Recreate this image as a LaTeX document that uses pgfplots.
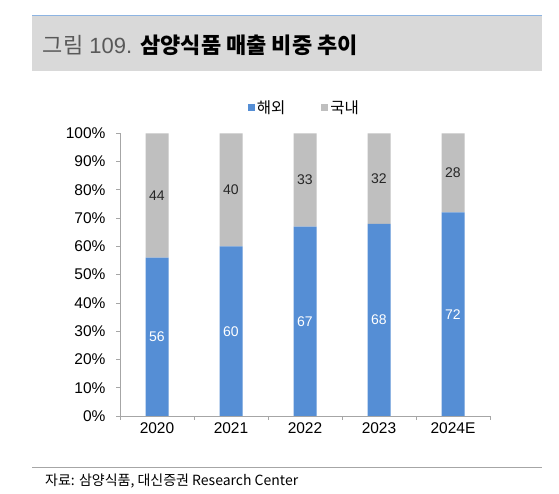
\documentclass[border=0pt]{standalone}
\usepackage{pgfplots}
\pgfplotsset{compat=1.18}
\usepackage{pgfplotstable}
\usepackage{fontspec}
\setmainfont{Liberation Sans}
\newfontfamily\kr{Noto Sans CJK KR}
\definecolor{barblue}{RGB}{85,142,213}
\definecolor{bargray}{RGB}{191,191,191}
\definecolor{band}{RGB}{217,217,217}
\definecolor{topline}{RGB}{141,180,226}
\definecolor{axisgray}{RGB}{166,166,166}
\definecolor{titlegray}{RGB}{89,89,89}
\definecolor{labeldark}{RGB}{38,38,38}

\pgfplotstableread{
x blue gray
0 56 44
1 60 40
2 67 33
3 68 32
4 72 28
}\shares

\begin{document}
\begin{tikzpicture}[x=1pt,y=1pt]
\useasboundingbox (0,0) rectangle (559,494);
\fill[white] (0,0) rectangle (559,494);
\fill[band] (32,423.3) rectangle (542,478);
\draw[topline, line width=1pt] (32,478) -- (542,478);
\node[anchor=west, inner sep=0pt] at (42.7,449)
  {\fontsize{22}{26}\selectfont\color{titlegray}{\kr 그림} 109. \color{black}{\kr\bfseries 삼양식품 매출 비중 추이}};
\draw[axisgray, line width=0.8pt] (32,26.3) -- (542,26.3);
\node[anchor=west, inner sep=0pt] at (45,13)
  {\fontsize{14}{16}\selectfont\kr 자료: 삼양식품, 대신증권 Research Center};

\begin{axis}[
  at={(120pt,78pt)}, anchor=south west,
  scale only axis, width=370pt, height=282.7pt,
  ybar stacked, bar width=23pt,
  xmin=-0.5, xmax=4.5, ymin=0, ymax=100,
  axis x line*=bottom, axis y line*=left,
  axis line style={axisgray, line width=0.8pt, -},
  xtick={-0.5,0.5,1.5,2.5,3.5,4.5}, xticklabels={,,,,,},
  extra x ticks={0,1,2,3,4},
  extra x tick labels={2020,2021,2022,2023,2024E},
  extra x tick style={major tick length=0pt},
  ytick={0,10,20,30,40,50,60,70,80,90,100},
  yticklabels={0\%,10\%,20\%,30\%,40\%,50\%,60\%,70\%,80\%,90\%,100\%},
  tick align=outside, major tick length=4pt,
  tick style={axisgray, line width=0.8pt},
  every tick label/.append style={font=\fontsize{15.5}{18}\selectfont, text=black},
  yticklabel style={xshift=-7pt},
  xticklabel style={yshift=-3pt},
  /pgf/number format/assume math mode=true,
  legend columns=2,
  legend style={at={(axis description cs:0.4986,1)}, anchor=center, yshift=25.8pt,
    draw=none, fill=none, inner sep=0pt,
    font=\fontsize{15.5}{18}\selectfont\kr,
    /tikz/every even column/.append style={column sep=34pt}},
  legend cell align=left,
  nodes near coords,
  every node near coord/.append style={anchor=center, font=\fontsize{14}{16}\selectfont},
]
\addplot[fill=barblue, draw=none,
  legend image code/.code={\fill[barblue] (0pt,-3.5pt) rectangle (7pt,3.5pt);},
  point meta=\thisrow{blue},
  every node near coord/.append style={text=white}]
  table[x=x, y=blue] {\shares};
\addplot[fill=bargray, draw=none,
  legend image code/.code={\fill[bargray] (0pt,-3.5pt) rectangle (7pt,3.5pt);},
  point meta=\thisrow{gray},
  every node near coord/.append style={text=labeldark}]
  table[x=x, y=gray] {\shares};
\legend{해외,국내}
\end{axis}
\end{tikzpicture}
\end{document}
